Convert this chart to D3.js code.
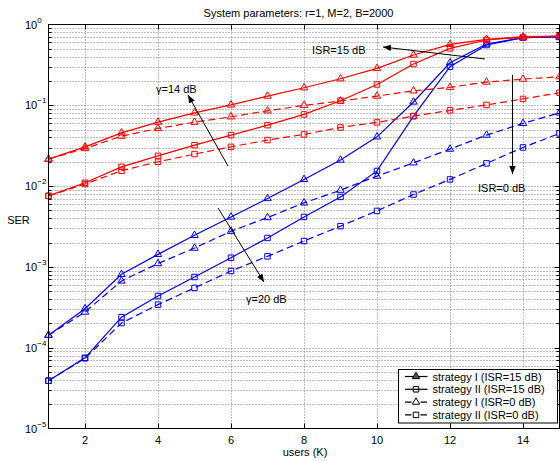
<!DOCTYPE html>
<html>
<head>
<meta charset="utf-8">
<script src="https://cdn.jsdelivr.net/npm/d3@7"></script>
<style>
  body { margin: 0; background: #fff; }
  svg { display: block; }
  text { font-family: "Liberation Sans", Arial, Helvetica, sans-serif; fill: #000; }
</style>
</head>
<body>
<svg id="chart" width="560" height="461"></svg>
<script>
// users K on the x axis
const users = [1, 2, 3, 4, 5, 6, 7, 8, 9, 10, 11, 12, 13, 14, 15];
const xTicks = [2, 4, 6, 8, 10, 12, 14];
const yDecades = [-5, -4, -3, -2, -1, 0];

// gamma = 14 dB (red)
const redI15  = [0.0216, 0.0306, 0.0456, 0.0619, 0.0807, 0.101, 0.130, 0.165, 0.213, 0.286, 0.419, 0.568, 0.656, 0.706, 0.72];
const redII15 = [0.00757, 0.0110, 0.0173, 0.0237, 0.0321, 0.0428, 0.0568, 0.0771, 0.114, 0.181, 0.324, 0.507, 0.643, 0.694, 0.72];
const redI0   = [0.0216, 0.0292, 0.0415, 0.0517, 0.0619, 0.0721, 0.0855, 0.0998, 0.113, 0.130, 0.151, 0.167, 0.194, 0.211, 0.226];
const redII0  = [0.00757, 0.0106, 0.0155, 0.0200, 0.0249, 0.0306, 0.0371, 0.0436, 0.0532, 0.0614, 0.0735, 0.0865, 0.101, 0.120, 0.143];

// gamma = 20 dB (blue)
const blueI15  = [1.43e-4, 3.04e-4, 8.09e-4, 1.43e-3, 2.46e-3, 4.15e-3, 7.02e-3, 0.0121, 0.0210, 0.0407, 0.110, 0.336, 0.573, 0.687, 0.70];
const blueII15 = [3.9e-5, 7.5e-5, 2.39e-4, 4.36e-4, 7.5e-4, 1.30e-3, 2.28e-3, 4.15e-3, 7.35e-3, 0.0154, 0.0735, 0.300, 0.557, 0.687, 0.70];
const blueI0   = [1.43e-4, 2.76e-4, 6.7e-4, 1.10e-3, 1.71e-3, 2.76e-3, 4.08e-3, 6.2e-3, 8.9e-3, 0.0133, 0.0194, 0.0287, 0.0428, 0.0597, 0.0807];
const blueII0  = [3.9e-5, 7.4e-5, 2.02e-4, 3.41e-4, 5.5e-4, 8.9e-4, 1.35e-3, 2.09e-3, 3.19e-3, 4.93e-3, 7.87e-3, 0.0121, 0.0191, 0.0301, 0.0449];

const legendLabels = [
  "strategy I (ISR=15 dB)",
  "strategy II (ISR=15 dB)",
  "strategy I (ISR=0 dB)",
  "strategy II (ISR=0 dB)"
];

const series = [
  { values: blueI15,  color: "#0000ff", dash: null,  shape: "tri" },
  { values: blueII15, color: "#0000ff", dash: null,  shape: "sq" },
  { values: blueI0,   color: "#0000ff", dash: "7,4", shape: "tri" },
  { values: blueII0,  color: "#0000ff", dash: "7,4", shape: "sq" },
  { values: redI15,   color: "#ff0000", dash: null,  shape: "tri" },
  { values: redII15,  color: "#ff0000", dash: null,  shape: "sq" },
  { values: redI0,    color: "#ff0000", dash: "7,4", shape: "tri" },
  { values: redII0,   color: "#ff0000", dash: "7,4", shape: "sq" }
];

const x0 = 48.5, x1 = 559.5, y0 = 24.5, y1 = 428.5;

const svg = d3.select("#chart");
const x = d3.scaleLinear().domain([1, 15]).range([x0, x1]);
const y = d3.scaleLog().domain([1e-5, 1]).range([y1, y0]);

const triPath = d3.symbol().type(d3.symbolTriangle).size(24)();
const sqPath = d3.symbol().type(d3.symbolSquare).size(30)();

// grid
const grid = svg.append("g")
  .attr("stroke", "#555")
  .attr("stroke-width", 0.8)
  .attr("stroke-dasharray", "1,2");

const yGridVals = [];
yDecades.forEach(k => {
  for (let m = 1; m <= 9; m++) {
    if (k === 0 && m > 1) break;
    yGridVals.push(m * Math.pow(10, k));
  }
});

grid.selectAll(".hg")
  .data(yGridVals.filter(v => v > 1e-5 && v < 1))
  .enter().append("line")
  .attr("x1", x0).attr("x2", x1)
  .attr("y1", d => Math.round(y(d)) + 0.5)
  .attr("y2", d => Math.round(y(d)) + 0.5);

grid.selectAll(".vg")
  .data(xTicks)
  .enter().append("line")
  .attr("x1", d => Math.round(x(d)) + 0.5)
  .attr("x2", d => Math.round(x(d)) + 0.5)
  .attr("y1", y0).attr("y2", y1);

// ticks
const ticks = svg.append("g").attr("stroke", "#000").attr("stroke-width", 1);
yGridVals.filter(v => v > 1e-5 && v < 1).forEach(v => {
  const major = Math.abs(Math.log10(v) - Math.round(Math.log10(v))) < 1e-9;
  const len = major ? 5 : 3;
  const yy = Math.round(y(v)) + 0.5;
  ticks.append("line").attr("x1", x0).attr("x2", x0 + len).attr("y1", yy).attr("y2", yy);
  ticks.append("line").attr("x1", x1).attr("x2", x1 - len).attr("y1", yy).attr("y2", yy);
});
xTicks.forEach(t => {
  const xx = Math.round(x(t)) + 0.5;
  ticks.append("line").attr("x1", xx).attr("x2", xx).attr("y1", y1).attr("y2", y1 - 5);
  ticks.append("line").attr("x1", xx).attr("x2", xx).attr("y1", y0).attr("y2", y0 + 5);
});

// tick labels
svg.append("g").selectAll("text")
  .data(xTicks)
  .enter().append("text")
  .attr("x", d => x(d))
  .attr("y", 443.5)
  .attr("text-anchor", "middle")
  .attr("font-size", 11)
  .text(d => d);

const yl = svg.append("g").selectAll("text")
  .data(yDecades)
  .enter().append("text")
  .attr("x", 25)
  .attr("y", d => y(Math.pow(10, d)) + 4)
  .attr("font-size", 11);
yl.append("tspan").text("10");
yl.append("tspan")
  .attr("dy", -6)
  .attr("font-size", 8)
  .text(d => d === 0 ? "0" : "\u2212" + (-d));

// series
const line = d3.line()
  .x((d, i) => x(users[i]))
  .y(d => y(d));

const plot = svg.append("g");
series.forEach(s => {
  plot.append("path")
    .datum(s.values)
    .attr("d", line)
    .attr("fill", "none")
    .attr("stroke", s.color)
    .attr("stroke-width", 1.2)
    .attr("stroke-dasharray", s.dash);
  plot.append("g").selectAll("path")
    .data(s.values)
    .enter().append("path")
    .attr("d", s.shape === "tri" ? triPath : sqPath)
    .attr("transform", (d, i) => `translate(${x(users[i])},${y(d)})`)
    .attr("fill", "none")
    .attr("stroke", s.color)
    .attr("stroke-width", 1);
});

// box
svg.append("rect")
  .attr("x", x0).attr("y", y0)
  .attr("width", x1 - x0).attr("height", y1 - y0)
  .attr("fill", "none")
  .attr("stroke", "#000")
  .attr("stroke-width", 1);

// arrows
svg.append("defs").append("marker")
  .attr("id", "head")
  .attr("viewBox", "0 0 10 10")
  .attr("refX", 10).attr("refY", 5)
  .attr("markerWidth", 8).attr("markerHeight", 8)
  .attr("markerUnits", "userSpaceOnUse")
  .attr("orient", "auto")
  .append("path")
  .attr("d", "M0,1 L10,5 L0,9 Z")
  .attr("fill", "#000");

const arrows = [
  [228, 166, 188, 95],
  [218, 208, 264, 282],
  [485, 59, 383, 47],
  [512.5, 75, 512.5, 174]
];
svg.append("g").selectAll("line")
  .data(arrows)
  .enter().append("line")
  .attr("x1", d => d[0]).attr("y1", d => d[1])
  .attr("x2", d => d[2]).attr("y2", d => d[3])
  .attr("stroke", "#000")
  .attr("stroke-width", 1)
  .attr("marker-end", "url(#head)");

const notes = [
  { text: "\u03b3=14 dB", x: 156, y: 93 },
  { text: "\u03b3=20 dB", x: 246, y: 303 },
  { text: "ISR=15 dB", x: 312, y: 54 },
  { text: "ISR=0 dB", x: 478, y: 192 }
];
svg.append("g").selectAll("text")
  .data(notes)
  .enter().append("text")
  .attr("x", d => d.x).attr("y", d => d.y)
  .attr("font-size", 11)
  .text(d => d.text);

// titles
svg.append("text")
  .attr("x", 298.5).attr("y", 16.5)
  .attr("text-anchor", "middle")
  .attr("font-size", 11)
  .text("System parameters: r=1, M=2, B=2000");

svg.append("text")
  .attr("x", 305).attr("y", 455.5)
  .attr("text-anchor", "middle")
  .attr("font-size", 11)
  .text("users (K)");

svg.append("text")
  .attr("x", 18.5).attr("y", 224)
  .attr("text-anchor", "middle")
  .attr("font-size", 11)
  .text("SER");

// legend
const lg = svg.append("g");
lg.append("rect")
  .attr("x", 398.5).attr("y", 369.5)
  .attr("width", 159).attr("height", 53.5)
  .attr("fill", "#fff")
  .attr("stroke", "#000")
  .attr("stroke-width", 1);

const legendRows = [
  { shape: "tri", dash: null, fill: "#555" },
  { shape: "sq", dash: null, fill: "none" },
  { shape: "tri", dash: "6.5,9", fill: "none" },
  { shape: "sq", dash: "6.5,9", fill: "none" }
];
legendRows.forEach((r, i) => {
  const yy = 376.5 + i * 12.8;
  lg.append("line")
    .attr("x1", 405).attr("x2", 427.5)
    .attr("y1", yy).attr("y2", yy)
    .attr("stroke", "#000")
    .attr("stroke-width", 1.2)
    .attr("stroke-dasharray", r.dash);
  lg.append("path")
    .attr("d", r.shape === "tri" ? triPath : sqPath)
    .attr("transform", `translate(416,${yy})`)
    .attr("fill", r.fill)
    .attr("stroke", "#000")
    .attr("stroke-width", 1);
  lg.append("text")
    .attr("x", 432.5).attr("y", yy + 4)
    .attr("font-size", 11)
    .text(legendLabels[i]);
});
</script>
</body>
</html>
